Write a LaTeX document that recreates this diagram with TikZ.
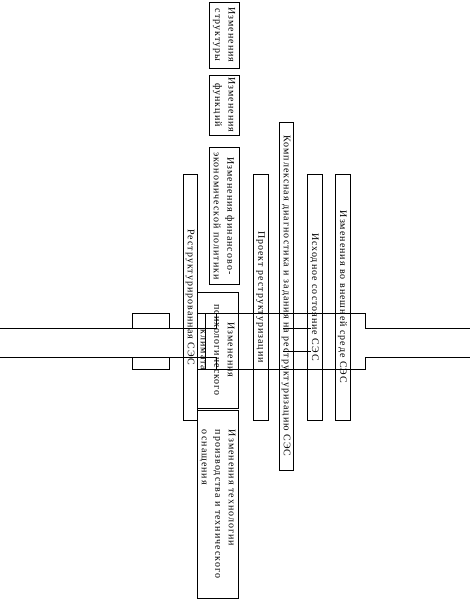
\documentclass[tikz,border=0pt]{standalone}
\usepackage{fontspec}
\newfontfamily\boxfont[LetterSpace=10]{Liberation Serif}
\begin{document}
\begin{tikzpicture}[x=1pt, y=-1pt, line width=0.6pt]
    \tikzset{
        box/.style={draw, rotate=-90, inner sep=1pt, align=center,
            font=\boxfont\fontsize{10}{13.5}\selectfont},
        strip/.style={draw, line width=0.6pt}
    }
    \useasboundingbox (0,0) rectangle (470,601);

    % wide band through the middle
    \draw[strip] (0,328) -- (205,328);
    \draw[strip] (0,357) -- (205,357);
    \draw[strip] (197,313) -- (365,313) -- (365,328) -- (470,328);
    \draw[strip] (197,369) -- (365,369) -- (365,357) -- (470,357);
    \draw[strip] (205,313) -- (205,369);
    \draw[strip] (132,313) rectangle (169,328);
    \draw[strip] (132,357) rectangle (169,369);
    \draw[strip] (205,313) rectangle (216,328);
    \draw[strip] (205,357) rectangle (216,369);
    \draw[strip] (283,328) -- (311,328);
    \draw[strip] (283,351) -- (311,351);

    % top row of changes
    \node[box, minimum width=66pt, minimum height=30pt] (struct) at (224,35)
        {Изменения\\структуры};
    \node[box, minimum width=60pt, minimum height=30pt] (func) at (224,105)
        {Изменения\\функций};
    \node[box, minimum width=137pt, minimum height=30pt] (fin) at (224,216)
        {Изменения финансово-\\экономической политики};

    % bottom row of changes
    \node[box, minimum width=116pt, minimum height=41pt] (psych) at (217.5,350)
        {Изменения\\психологического\\климата};
    \node[box, align=left, minimum width=188pt, minimum height=41pt] (tech) at (217.5,504)
        {Изменения технологии\\производства и технического\\оснащения};

    % long boxes
    \node[box, minimum width=246pt, minimum height=14pt] (result) at (190,297)
        {Реструктурированная СЭС};
    \node[box, minimum width=246pt, minimum height=15pt] (project) at (260.5,297)
        {Проект реструктуризации};
    \node[box, minimum width=348pt, minimum height=14pt] (diag) at (286,296)
        {Комплексная диагностика и задания на реструктуризацию СЭС};
    \node[box, minimum width=246pt, minimum height=15pt] (start) at (314.5,297)
        {Исходное состояние СЭС};
    \node[box, minimum width=246pt, minimum height=15pt] (env) at (342.5,297)
        {Изменения во внешней среде СЭС};
\end{tikzpicture}
\end{document}
